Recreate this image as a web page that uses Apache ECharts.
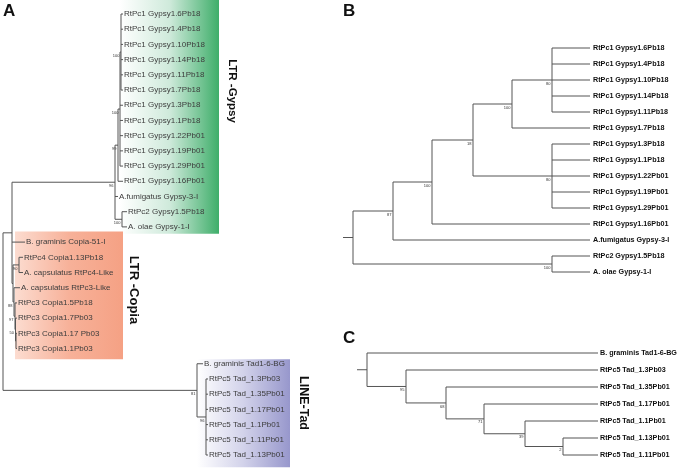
<!DOCTYPE html>
<html><head><meta charset="utf-8">
<script src="https://cdn.jsdelivr.net/npm/echarts@6/dist/echarts.min.js"></script>
<style>html,body{margin:0;padding:0;background:#fff}#c{width:685px;height:470px}</style>
</head><body><div id="c"></div>
<script>
// ---------- Panel A : combined tree (nodes in pre-order) ----------
const aLabels = ['', '', '', '', '', '',
  'RtPc1 Gypsy1.6Pb18', 'RtPc1 Gypsy1.4Pb18', 'RtPc1 Gypsy1.10Pb18', 'RtPc1 Gypsy1.14Pb18',
  'RtPc1 Gypsy1.11Pb18', 'RtPc1 Gypsy1.7Pb18', 'RtPc1 Gypsy1.3Pb18', 'RtPc1 Gypsy1.1Pb18',
  'RtPc1 Gypsy1.22Pb01', 'RtPc1 Gypsy1.19Pb01', 'RtPc1 Gypsy1.29Pb01', 'RtPc1 Gypsy1.16Pb01',
  'A.fumigatus Gypsy-3-I', '', 'RtPc2 Gypsy1.5Pb18', 'A. olae Gypsy-1-I',
  'B. graminis Copia-51-I', '', '', 'RtPc4 Copia1.13Pb18', 'A. capsulatus RtPc4-Like',
  '', 'A. capsulatus RtPc3-Like', '', 'RtPc3 Copia1.5Pb18', '', 'RtPc3 Copia1.7Pb03', '',
  'RtPc3 Copia1.17 Pb03', 'RtPc3 Copia1.1Pb03',
  '', 'B. graminis Tad1-6-BG', '', 'RtPc5 Tad_1.3Pb03', 'RtPc5 Tad_1.35Pb01',
  'RtPc5 Tad_1.17Pb01', 'RtPc5 Tad_1.1Pb01', 'RtPc5 Tad_1.11Pb01', 'RtPc5 Tad_1.13Pb01'];
const aParents = [-1, 0, 1, 2, 3, 4, 5, 5, 5, 5, 5, 5, 4, 4, 4, 4, 4, 3, 2, 2, 19, 19,
  1, 1, 23, 24, 24, 23, 27, 27, 29, 29, 31, 31, 33, 33, 0, 36, 36, 38, 38, 38, 38, 38, 38];
const aDepths = [3, 12, 115, 118, 120, 121, 123, 123, 123, 123, 123, 123, 123, 123, 123, 123, 123, 123,
  118, 122, 127, 127, 25, 13, 19, 23, 23, 14, 20, 15, 17, 15.5, 17, 16, 17, 17,
  197, 203, 206, 208, 208, 208, 208, 208, 208];
const aSupport = ['', '', '96', '99', '100', '100', '', '', '', '', '', '', '', '', '', '', '', '',
  '', '100', '', '', '', '', '90', '', '', '88', '', '97', '', '50', '', '', '', '',
  '81', '', '96', '', '', '', '', '', ''];

// ---------- Panel B : LTR-Gypsy tree ----------
const bLabels = ['', '', '', '', '', '',
  'RtPc1 Gypsy1.6Pb18', 'RtPc1 Gypsy1.4Pb18', 'RtPc1 Gypsy1.10Pb18', 'RtPc1 Gypsy1.14Pb18',
  'RtPc1 Gypsy1.11Pb18', 'RtPc1 Gypsy1.7Pb18', '',
  'RtPc1 Gypsy1.3Pb18', 'RtPc1 Gypsy1.1Pb18', 'RtPc1 Gypsy1.22Pb01', 'RtPc1 Gypsy1.19Pb01',
  'RtPc1 Gypsy1.29Pb01', 'RtPc1 Gypsy1.16Pb01', 'A.fumigatus Gypsy-3-I', '',
  'RtPc2 Gypsy1.5Pb18', 'A. olae Gypsy-1-I'];
const bParents = [-1, 0, 1, 2, 3, 4, 5, 5, 5, 5, 5, 4, 3, 12, 12, 12, 12, 12, 2, 1, 0, 20, 20];
const bDepths = [10, 50, 89, 130, 169, 209, 247, 247, 247, 247, 247, 247, 209,
  247, 247, 247, 247, 247, 247, 247, 209, 247, 247];
const bSupport = ['', '87', '100', '18', '100', '80', '', '', '', '', '', '', '80',
  '', '', '', '', '', '', '', '100', '', ''];

// ---------- Panel C : LINE-Tad tree ----------
const cLabels = ['', 'B. graminis Tad1-6-BG', '', 'RtPc5 Tad_1.3Pb03', '', 'RtPc5 Tad_1.35Pb01',
  '', 'RtPc5 Tad_1.17Pb01', '', 'RtPc5 Tad_1.1Pb01', '', 'RtPc5 Tad_1.13Pb01', 'RtPc5 Tad_1.11Pb01'];
const cParents = [-1, 0, 0, 2, 2, 4, 4, 6, 6, 8, 8, 10, 10];
const cDepths = [10, 241, 49, 241, 89, 241, 127, 241, 168, 241, 206, 241, 241];
const cSupport = ['', '', '95', '', '68', '', '71', '', '39', '', '2', '', ''];

function layoutTree(parents, depths, stubStart) {
  const n = parents.length;
  const children = parents.map(() => []);
  parents.forEach((p, i) => { if (p >= 0) children[p].push(i); });
  const y = new Array(n);
  let leaf = 0;
  for (let i = 0; i < n; i++) if (!children[i].length) y[i] = leaf++;
  for (let i = n - 1; i >= 0; i--) {
    const c = children[i];
    if (c.length) y[i] = (y[c[0]] + y[c[c.length - 1]]) / 2;
  }
  return parents.map((p, i) => {
    const c = children[i];
    return [depths[i], y[i], p >= 0 ? depths[p] : stubStart,
      c.length ? y[c[0]] : y[i], c.length ? y[c[c.length - 1]] : y[i]];
  });
}

function makeRender(labels, support, st) {
  return function (params, api) {
    const i = params.dataIndex;
    const x = api.value(0), y = api.value(1), px = api.value(2), y0 = api.value(3), y1 = api.value(4);
    const p = api.coord([x, y]), pp = api.coord([px, y]);
    const ls = { stroke: st.line, lineWidth: st.lw };
    const els = [];
    if (Math.abs(p[0] - pp[0]) > 0.1) {
      els.push({ type: 'line', shape: { x1: pp[0], y1: p[1], x2: p[0], y2: p[1] }, style: ls });
    }
    if (y0 !== y1) {
      const a = api.coord([x, y0]), b = api.coord([x, y1]);
      els.push({ type: 'line', shape: { x1: a[0], y1: a[1], x2: b[0], y2: b[1] }, style: ls });
    }
    if (labels[i]) {
      els.push({ type: 'text', x: p[0] + st.gap, y: p[1], style: {
        text: labels[i], fill: st.color, fontSize: st.fs, fontWeight: st.fw,
        fontFamily: 'Liberation Sans, Arial, sans-serif', align: 'left', verticalAlign: 'middle' } });
    }
    if (support[i]) {
      els.push({ type: 'text', x: p[0] - 1.5, y: p[1] + 3.5, style: {
        text: support[i], fill: '#333', fontSize: 4, fontFamily: 'Liberation Sans, Arial, sans-serif',
        align: 'right', verticalAlign: 'middle' } });
    }
    return { type: 'group', children: els };
  };
}

// clade highlight boxes in panel A: [first leaf, last leaf] ranges
const cladeNames = ['LTR -Gypsy', 'LTR -Copia', 'LINE-Tad'];
const cladeLeafRange = [[0, 14], [15, 22], [23, 29]];
const boxes = [
  { x0: 120, x1: 219, pad0: 0.95, pad1: 0.45, colors: ['#ffffff', '#cfeadb', '#3fae6a'], lx: 13, ly: 91, fs: 11.5 },
  { x0: 15, x1: 123, pad0: 0.7, pad1: 0.7, colors: ['#fcdcd0', '#f7b199', '#f5a184'], lx: 11, ly: 290, fs: 13 },
  { x0: 197, x1: 290, pad0: 0.3, pad1: 0.8, colors: ['#ffffff', '#d2d2ea', '#9797cc'], lx: 13, ly: 403, fs: 12.5 }
];
const boxData = cladeLeafRange.map((r, k) => [boxes[k].x0, r[0] - boxes[k].pad0, boxes[k].x1, r[1] + boxes[k].pad1, k]);

const chart = echarts.init(document.getElementById('c'), null, { renderer: 'canvas' });
const hidden = { show: false };
const option = {
  animation: false,
  backgroundColor: '#fff',
  grid: [
    { left: 0, top: 14, width: 300, height: 441 },
    { left: 343, top: 48, width: 247, height: 224 },
    { left: 357, top: 353, width: 241, height: 102 }
  ],
  xAxis: [
    Object.assign({ type: 'value', gridIndex: 0, min: 0, max: 300 }, hidden),
    Object.assign({ type: 'value', gridIndex: 1, min: 0, max: 247 }, hidden),
    Object.assign({ type: 'value', gridIndex: 2, min: 0, max: 241 }, hidden)
  ],
  yAxis: [
    Object.assign({ type: 'value', gridIndex: 0, min: 0, max: 29, inverse: true }, hidden),
    Object.assign({ type: 'value', gridIndex: 1, min: 0, max: 14, inverse: true }, hidden),
    Object.assign({ type: 'value', gridIndex: 2, min: 0, max: 6, inverse: true }, hidden)
  ],
  graphic: [
    { type: 'text', left: 3, top: 3, style: { text: 'A', fontSize: 17, fontWeight: 'bold', fill: '#111', fontFamily: 'Liberation Sans, Arial, sans-serif' } },
    { type: 'text', left: 343, top: 3, style: { text: 'B', fontSize: 17, fontWeight: 'bold', fill: '#111', fontFamily: 'Liberation Sans, Arial, sans-serif' } },
    { type: 'text', left: 343, top: 330, style: { text: 'C', fontSize: 17, fontWeight: 'bold', fill: '#111', fontFamily: 'Liberation Sans, Arial, sans-serif' } }
  ],
  series: [
    {
      type: 'custom', xAxisIndex: 0, yAxisIndex: 0, data: boxData, silent: true, clip: false, z: 1,
      renderItem: function (params, api) {
        const k = api.value(4);
        const bx = boxes[k];
        const a = api.coord([api.value(0), api.value(1)]);
        const b = api.coord([api.value(2), api.value(3)]);
        const c = bx.colors;
        return { type: 'group', children: [
          { type: 'rect', shape: { x: a[0], y: a[1], width: b[0] - a[0], height: b[1] - a[1] },
            style: { fill: new echarts.graphic.LinearGradient(0, 0, 1, 0, [
              { offset: 0, color: c[0] }, { offset: 0.5, color: c[1] }, { offset: 1, color: c[2] }]) } },
          { type: 'text', x: b[0] + bx.lx, y: bx.ly, rotation: -Math.PI / 2,
            style: { text: cladeNames[k], fontSize: bx.fs, fontWeight: 'bold', fill: '#111',
              fontFamily: 'Liberation Sans Narrow, Liberation Sans, Arial, sans-serif',
              align: 'center', verticalAlign: 'middle' } }
        ] };
      }
    },
    {
      type: 'custom', xAxisIndex: 0, yAxisIndex: 0, clip: false, z: 3,
      data: layoutTree(aParents, aDepths, aDepths[0]),
      renderItem: makeRender(aLabels, aSupport, { line: '#555', lw: 1, gap: 1, color: '#3c3c3c', fs: 8, fw: 'normal' })
    },
    {
      type: 'custom', xAxisIndex: 1, yAxisIndex: 1, clip: false, z: 3,
      data: layoutTree(bParents, bDepths, 0),
      renderItem: makeRender(bLabels, bSupport, { line: '#555', lw: 1, gap: 3, color: '#111', fs: 7.2, fw: 'bold' })
    },
    {
      type: 'custom', xAxisIndex: 2, yAxisIndex: 2, clip: false, z: 3,
      data: layoutTree(cParents, cDepths, 0),
      renderItem: makeRender(cLabels, cSupport, { line: '#555', lw: 1, gap: 2, color: '#111', fs: 7.2, fw: 'bold' })
    }
  ]
};
chart.setOption(option);
</script></body></html>
